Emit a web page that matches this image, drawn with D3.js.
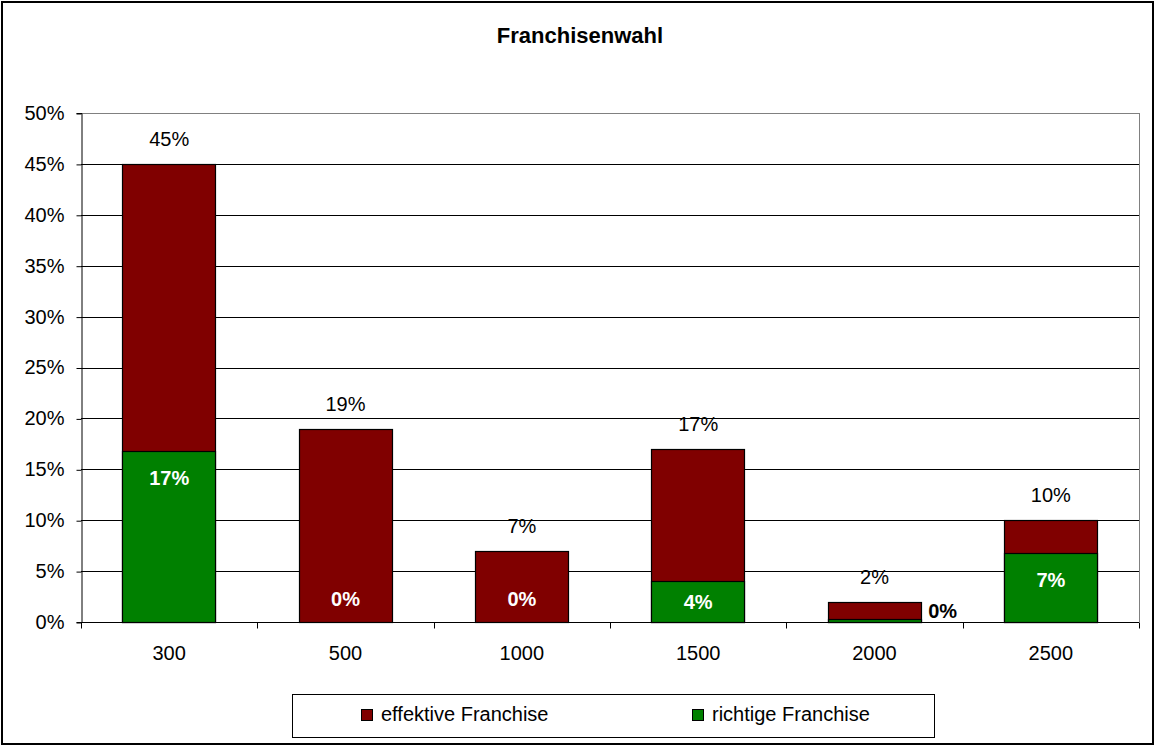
<!DOCTYPE html>
<html>
<head>
<meta charset="utf-8">
<script src="https://cdn.jsdelivr.net/npm/d3@7/dist/d3.min.js"></script>
<style>
  body { margin: 0; background: #fff; }
  svg text { font-family: "Liberation Sans", Arial, sans-serif; }
</style>
</head>
<body>
<div id="chart"></div>
<script>
// Franchisenwahl - overlapped bars
const categories = ['300', '500', '1000', '1500', '2000', '2500'];
const effektiv = [45, 19, 7, 17, 2, 10];
const richtig = [16.8, 0, 0, 4, 0.3, 6.8];
const richtigLabels = ['17%', '0%', '0%', '4%', '0%', '7%'];
const yTicks = [0, 5, 10, 15, 20, 25, 30, 35, 40, 45, 50];
const seriesNames = ['effektive Franchise', 'richtige Franchise'];

const W = 1155, H = 746;
const red = '#800000', green = '#008000';
const fs = '20px';

const svg = d3.select('#chart').append('svg')
    .attr('width', W)
    .attr('height', H);

// outer frame
svg.append('rect')
    .attr('x', 2).attr('y', 2)
    .attr('width', W - 4).attr('height', H - 4)
    .attr('fill', '#fff')
    .attr('stroke', '#000')
    .attr('stroke-width', 2);

svg.append('text')
    .attr('x', 580).attr('y', 43)
    .attr('text-anchor', 'middle')
    .attr('font-size', '22px')
    .attr('font-weight', 'bold')
    .text('Franchisenwahl');

const plot = { left: 81, right: 1139, top: 113, bottom: 622 };

const x = d3.scaleBand()
    .domain(categories)
    .range([plot.left, plot.right])
    .paddingInner(0.47)
    .paddingOuter(0.235);

const y = d3.scaleLinear()
    .domain([0, 50])
    .range([plot.bottom, plot.top]);

// gridlines
svg.append('g')
    .selectAll('line')
    .data(yTicks.filter(d => d > 0))
    .join('line')
    .attr('x1', plot.left).attr('x2', plot.right)
    .attr('y1', d => Math.round(y(d)) + 0.5)
    .attr('y2', d => Math.round(y(d)) + 0.5)
    .attr('stroke', d => d === 50 ? '#808080' : '#000')
    .attr('stroke-width', 1);

// right border of plot area
svg.append('line')
    .attr('x1', plot.right + 0.5).attr('x2', plot.right + 0.5)
    .attr('y1', plot.top).attr('y2', plot.bottom)
    .attr('stroke', '#808080');

// y axis
const yAxis = svg.append('g')
    .attr('transform', `translate(${plot.left + 0.5},0)`)
    .call(d3.axisLeft(y).tickValues(yTicks).tickFormat(d => d + '%').tickSizeOuter(0).tickSize(5).tickPadding(12));
yAxis.select('.domain').attr('stroke', '#000');
yAxis.selectAll('text').attr('font-size', fs).attr('fill', '#000')
    .attr('font-family', '"Liberation Sans", Arial, sans-serif');
yAxis.selectAll('.tick line').attr('transform', 'translate(0,0.5)');

// x axis: ticks at category boundaries
const xAxisG = svg.append('g').attr('transform', `translate(0,${plot.bottom + 0.5})`);
xAxisG.append('line')
    .attr('x1', plot.left).attr('x2', plot.right)
    .attr('stroke', '#000');
const step = x.step();
xAxisG.selectAll('line.tk')
    .data(d3.range(categories.length + 1))
    .join('line')
    .attr('class', 'tk')
    .attr('x1', i => Math.round(plot.left + i * step) + 0.5)
    .attr('x2', i => Math.round(plot.left + i * step) + 0.5)
    .attr('y1', 0).attr('y2', 6)
    .attr('stroke', '#000');
xAxisG.selectAll('text')
    .data(categories)
    .join('text')
    .attr('x', d => x(d) + x.bandwidth() / 2)
    .attr('y', 37)
    .attr('text-anchor', 'middle')
    .attr('font-size', fs)
    .text(d => d);

// bars: effektive (back), richtige (front)
const bars = svg.append('g');
bars.selectAll('rect.eff')
    .data(categories)
    .join('rect')
    .attr('class', 'eff')
    .attr('x', d => Math.round(x(d)) + 0.5)
    .attr('y', (d, i) => Math.round(y(effektiv[i])) + 0.5)
    .attr('width', Math.round(x.bandwidth()))
    .attr('height', (d, i) => Math.round(y(0)) - Math.round(y(effektiv[i])))
    .attr('fill', red)
    .attr('stroke', '#000')
    .attr('stroke-width', 1.2);

bars.selectAll('rect.ri')
    .data(categories.filter((d, i) => richtig[i] > 0))
    .join('rect')
    .attr('class', 'ri')
    .attr('x', d => Math.round(x(d)) + 0.5)
    .attr('y', d => Math.round(y(richtig[categories.indexOf(d)])) + 0.5)
    .attr('width', Math.round(x.bandwidth()))
    .attr('height', d => Math.round(y(0)) - Math.round(y(richtig[categories.indexOf(d)])))
    .attr('fill', green)
    .attr('stroke', '#000')
    .attr('stroke-width', 1.2);

// labels of effektive
svg.append('g').selectAll('text')
    .data(categories)
    .join('text')
    .attr('x', d => x(d) + x.bandwidth() / 2)
    .attr('y', (d, i) => y(effektiv[i]) - 18)
    .attr('text-anchor', 'middle')
    .attr('font-size', fs)
    .text((d, i) => effektiv[i] + '%');

// labels of richtige
svg.append('g').selectAll('text')
    .data(categories)
    .join('text')
    .each(function (d, i) {
        const t = d3.select(this);
        const v = richtig[i];
        const top = y(v), h = y(0) - top;
        const cx = x(d) + x.bandwidth() / 2;
        t.attr('font-size', fs).attr('font-weight', 'bold').text(richtigLabels[i]);
        if (v === 0) {
            t.attr('x', cx).attr('y', y(0) - 16).attr('text-anchor', 'middle').attr('fill', '#fff');
        } else if (h < 15) {
            t.attr('x', x(d) + x.bandwidth() + 7).attr('y', y(0) - 4).attr('fill', '#000');
        } else if (h < 54) {
            t.attr('x', cx).attr('y', (top + y(0)) / 2 + 7).attr('text-anchor', 'middle').attr('fill', '#fff');
        } else {
            t.attr('x', cx).attr('y', top + 34).attr('text-anchor', 'middle').attr('fill', '#fff');
        }
    });

// legend
const lg = svg.append('g');
lg.append('rect')
    .attr('x', 292.5).attr('y', 694.5)
    .attr('width', 642).attr('height', 43)
    .attr('fill', '#fff')
    .attr('stroke', '#000');
const legendX = [361, 692];
const item = lg.selectAll('g.item')
    .data(seriesNames)
    .join('g')
    .attr('class', 'item')
    .attr('transform', (d, i) => `translate(${legendX[i]},709)`);
item.append('rect')
    .attr('x', 0.5).attr('y', 0.5)
    .attr('width', 11).attr('height', 11)
    .attr('fill', (d, i) => i === 0 ? red : green)
    .attr('stroke', '#000');
item.append('text')
    .attr('x', 20).attr('y', 12)
    .attr('font-size', fs)
    .text(d => d);
</script>
</body>
</html>
